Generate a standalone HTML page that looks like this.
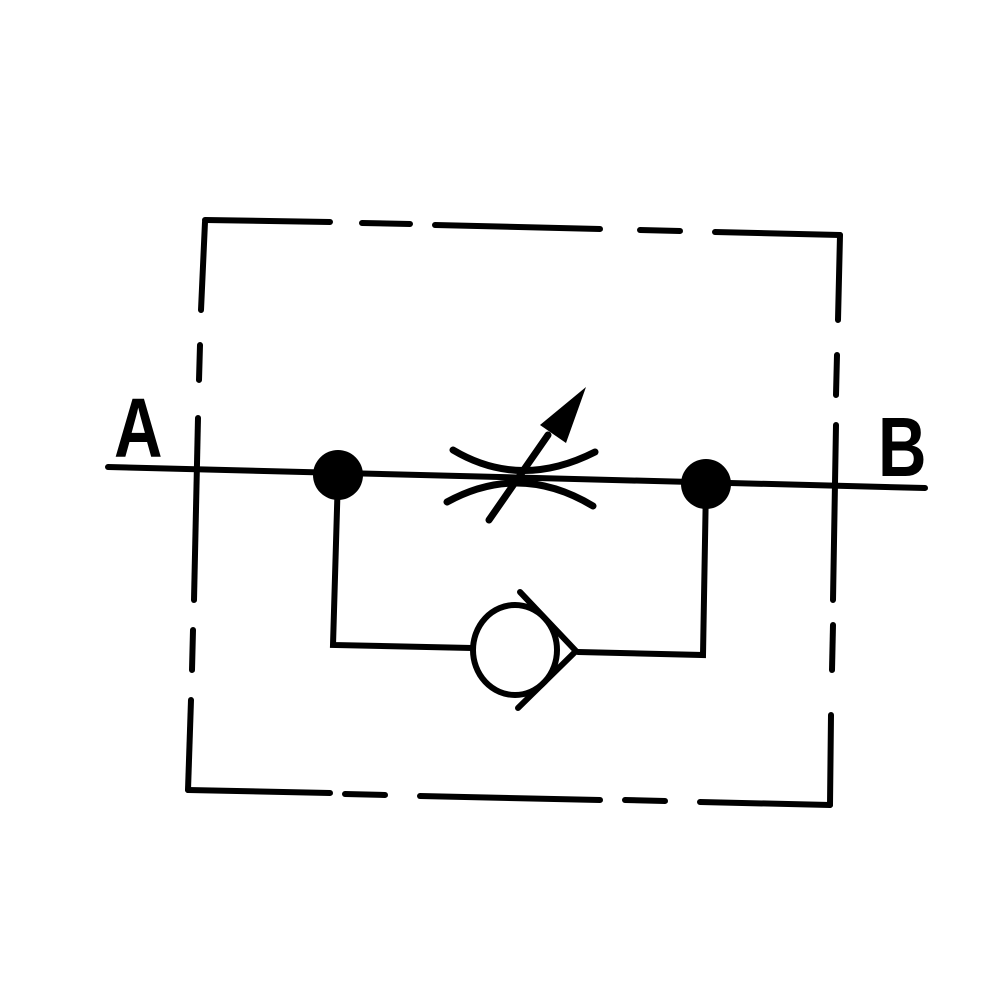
<!DOCTYPE html>
<html><head><style>html,body{margin:0;padding:0;background:#fff}svg{display:block}</style></head>
<body>
<svg width="1000" height="1000" viewBox="0 0 1000 1000" xmlns="http://www.w3.org/2000/svg">
<g stroke="#000" stroke-width="6" stroke-linecap="round" fill="none">
<line x1="205" y1="220" x2="330" y2="222"/>
<line x1="362" y1="223" x2="410" y2="224"/>
<line x1="435" y1="225" x2="600" y2="229"/>
<line x1="640" y1="230" x2="680" y2="231"/>
<line x1="715" y1="232" x2="840" y2="235"/>
<line x1="205" y1="222" x2="201" y2="310"/>
<line x1="200" y1="345" x2="199" y2="380"/>
<line x1="198" y1="418" x2="194" y2="600"/>
<line x1="193" y1="630" x2="192" y2="670"/>
<line x1="191" y1="700" x2="188" y2="790"/>
<line x1="840" y1="235" x2="838" y2="320"/>
<line x1="837" y1="355" x2="836" y2="395"/>
<line x1="836" y1="425" x2="833" y2="600"/>
<line x1="833" y1="625" x2="832" y2="670"/>
<line x1="831" y1="715" x2="830" y2="805"/>
<line x1="188" y1="790" x2="330" y2="793"/>
<line x1="345" y1="794" x2="385" y2="795"/>
<line x1="420" y1="796" x2="600" y2="800"/>
<line x1="625" y1="800" x2="665" y2="801"/>
<line x1="700" y1="802" x2="830" y2="805"/>
<line x1="108" y1="467" x2="925" y2="488"/>
<polyline points="338,475 333,645 472,648"/>
<polyline points="578,652 703,655 706,484"/>
<ellipse cx="515" cy="650" rx="42" ry="45"/>
<polyline points="520,592 576,651 518,708"/>
<path d="M453,450 Q520,490 595,452" stroke-width="7"/>
<path d="M447,502 Q520,462 593,506" stroke-width="7"/>
<line x1="489" y1="520" x2="548" y2="435" stroke-width="7"/>
</g>
<polygon points="586,387 540,425 566,443" fill="#000"/>
<circle cx="338" cy="475" r="25" fill="#000"/>
<circle cx="706" cy="484" r="25" fill="#000"/>
<text transform="translate(114,457) scale(0.8,1)" font-family="Liberation Sans, sans-serif" font-weight="bold" font-size="84" fill="#000">A</text>
<text transform="translate(878,476) scale(0.8,1)" font-family="Liberation Sans, sans-serif" font-weight="bold" font-size="84" fill="#000">B</text>
</svg>
</body></html>
